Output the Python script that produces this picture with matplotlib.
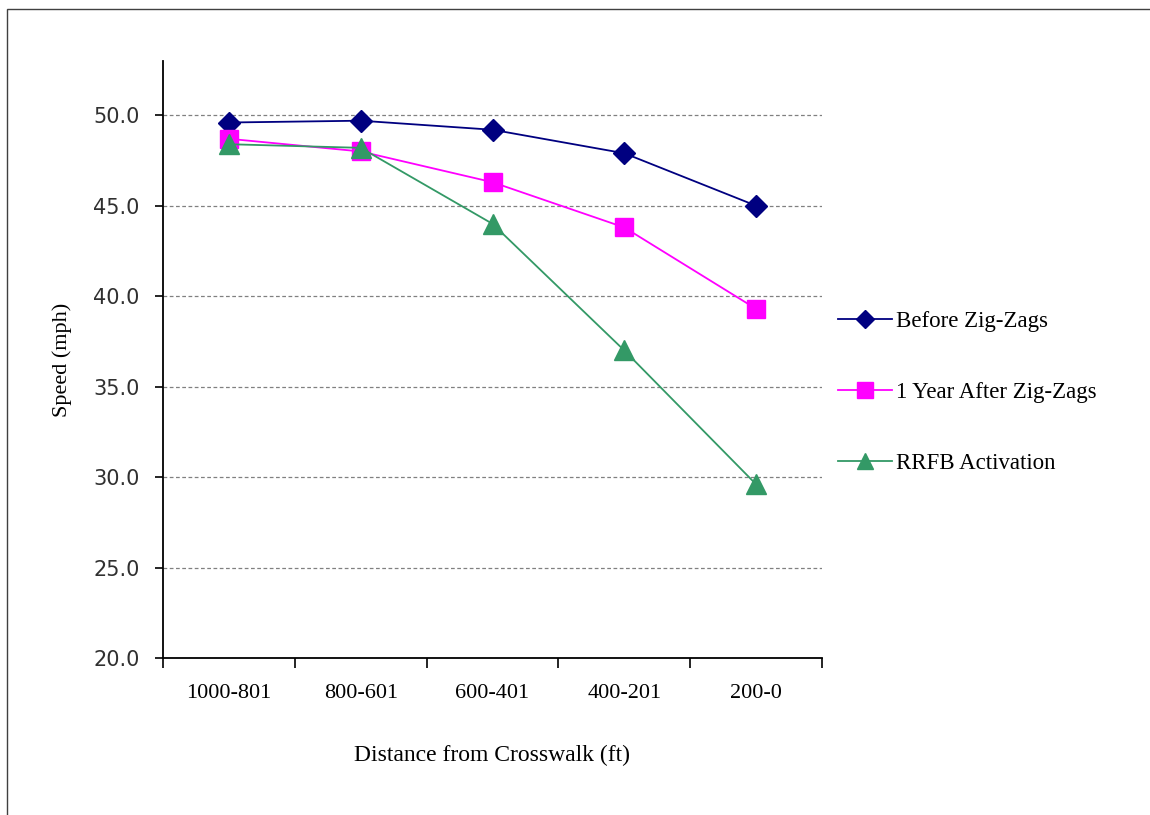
import numpy as np
import matplotlib
matplotlib.use("Agg")
import matplotlib.pyplot as plt
from matplotlib.patches import Rectangle

categories = ["1000-801", "800-601", "600-401", "400-201", "200-0"]
before = [49.6, 49.7, 49.2, 47.9, 45.0]
one_year = [48.7, 48.0, 46.3, 43.8, 39.3]
rrfb = [48.4, 48.2, 44.0, 37.0, 29.6]
yticks = [20.0, 25.0, 30.0, 35.0, 40.0, 45.0, 50.0]

serif = "Liberation Serif"

fig = plt.figure(figsize=(11.5, 8.15), dpi=100)
fig.patches.append(Rectangle((7/1150, -0.01), 1.2, 1 - 9/815 + 0.01, transform=fig.transFigure,
                             fill=False, edgecolor="#404040", linewidth=1.0))

ax = fig.add_axes([163/1150, 1 - 658/815, (822 - 163)/1150, (658 - 61)/815])
x = np.arange(len(categories))

ax.plot(x, before, color="#000080", marker="D", markersize=11, linewidth=1.3,
        label="Before Zig-Zags", zorder=3)
ax.plot(x, one_year, color="#FF00FF", marker="s", markersize=13, linewidth=1.3,
        label="1 Year After Zig-Zags", zorder=3)
ax.plot(x, rrfb, color="#339966", marker="^", markersize=14, linewidth=1.3,
        label="RRFB Activation", zorder=3)

ax.set_xlim(-0.5, len(categories) - 0.5)
ax.set_ylim(20, 53)
ax.set_yticks(yticks)
ax.set_yticklabels([f"{v:.1f}" for v in yticks], fontsize=15, color="#303030",
                   family="DejaVu Sans")
ax.yaxis.grid(True, linestyle=(0, (3, 2)), color="#808080", linewidth=0.9)
ax.set_axisbelow(True)

# category ticks on the boundaries, labels at centres
ax.set_xticks(np.arange(-0.5, len(categories), 1.0))
ax.set_xticklabels([])
ax.set_xticks(x, minor=True)
ax.set_xticklabels(categories, minor=True, fontsize=16, family=serif)
ax.tick_params(axis="x", which="minor", length=0, pad=19)
ax.tick_params(axis="x", which="major", length=7, width=1.2, direction="out")
ax.tick_params(axis="y", length=6, width=1.2, direction="out", pad=11)

for s in ["top", "right"]:
    ax.spines[s].set_visible(False)
for s in ["left", "bottom"]:
    ax.spines[s].set_linewidth(1.3)
    ax.spines[s].set_color("black")

ax.set_ylabel("Speed (mph)", fontsize=16, family=serif, labelpad=15)
ax.set_xlabel("Distance from Crosswalk (ft)", fontsize=17, family=serif, labelpad=30)

leg = ax.legend(loc="center left", bbox_to_anchor=(1.024, 0.444), frameon=False,
                prop={"family": serif, "size": 16.5}, labelspacing=2.18,
                handlelength=2.35, handletextpad=0.2, borderaxespad=0, borderpad=0,
                markerscale=0.85)

fig.savefig("out.png", dpi=100)
